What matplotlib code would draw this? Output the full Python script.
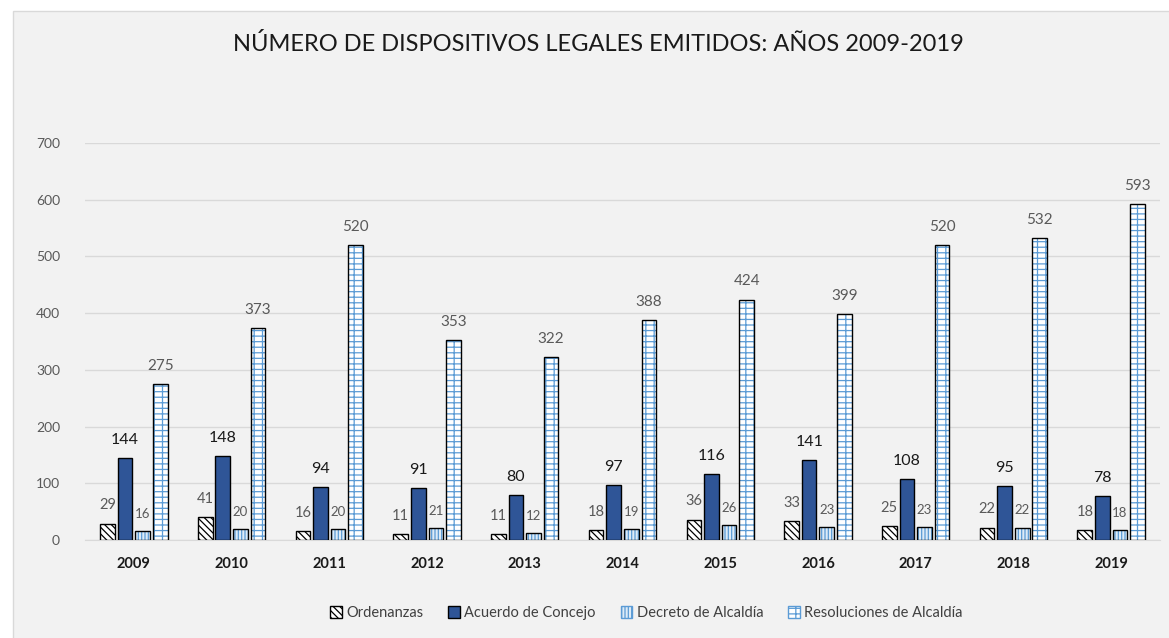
import numpy as np
import matplotlib
matplotlib.use("Agg")
import matplotlib.pyplot as plt
from matplotlib.patches import Rectangle, Patch

plt.rcParams['font.family'] = ['Lato', 'DejaVu Sans']
plt.rcParams['hatch.linewidth'] = 0.9

years = ['2009', '2010', '2011', '2012', '2013', '2014', '2015', '2016', '2017', '2018', '2019']
ordenanzas = [29, 41, 16, 11, 11, 18, 36, 33, 25, 22, 18]
acuerdo = [144, 148, 94, 91, 80, 97, 116, 141, 108, 95, 78]
decreto = [16, 20, 20, 21, 12, 19, 26, 23, 23, 22, 18]
resoluciones = [275, 373, 520, 353, 322, 388, 424, 399, 520, 532, 593]

bg = '#F2F2F2'
h_ord = '\\' * 5
h_dec = '|' * 5
h_res = '---||'

fig = plt.figure(figsize=(11.69, 6.38), dpi=100)
fig.patch.set_facecolor('white')
# chart area frame, behind the axes
fig.patches.append(Rectangle((13 / 1169, -0.01), 1.0, 1 - 11 / 638 + 0.01,
                             transform=fig.transFigure, facecolor=bg,
                             edgecolor='#D9D9D9', linewidth=1, zorder=-10))

ax = fig.add_axes([85 / 1169, 1 - 540 / 638, 1075 / 1169, 397 / 638])
ax.set_facecolor(bg)

x = np.arange(len(years))
step = 0.18
w = 0.15

def draw(vals, off, face, hatch, hcol):
    pos = x + off
    # hatch layer, then black outline
    ax.bar(pos, vals, w, color=face, edgecolor=hcol, hatch=hatch, linewidth=0, zorder=2)
    return ax.bar(pos, vals, w, facecolor='none', edgecolor='black', linewidth=1.0, zorder=3)

b1 = draw(ordenanzas, -1.5 * step, 'white', h_ord, 'black')
b2 = ax.bar(x - 0.5 * step, acuerdo, w, color='#2F5597', edgecolor='black', linewidth=1.0, zorder=3)
b3 = draw(decreto, 0.5 * step, '#DDEBF7', h_dec, '#5B9BD5')
b4 = draw(resoluciones, 1.5 * step, 'white', h_res, '#5B9BD5')

ax.bar_label(b1, padding=8, color='#595959', fontsize=10.5)
ax.bar_label(b2, padding=8, color='#1a1a1a', fontsize=11.5)
ax.bar_label(b3, padding=8, color='#595959', fontsize=9.5)
ax.bar_label(b4, padding=8, color='#595959', fontsize=11)

ax.set_xlim(-0.5, 10.5)
ax.set_ylim(0, 700)
ax.set_yticks(range(0, 701, 100))
ax.yaxis.grid(True, color='#D9D9D9', linewidth=1)
ax.set_axisbelow(True)
for s in ['top', 'right', 'left']:
    ax.spines[s].set_visible(False)
ax.spines['bottom'].set_color('#D9D9D9')
ax.tick_params(axis='both', length=0)
ax.tick_params(axis='y', labelcolor='#595959', labelsize=10, pad=18)
ax.set_xticks(x)
ax.set_xticklabels(years, fontweight='bold', fontsize=10.5, color='#1a1a1a')
ax.tick_params(axis='x', pad=12)

fig.text(0.512, 1 - 44 / 638, 'NÚMERO DE DISPOSITIVOS LEGALES EMITIDOS: AÑOS 2009-2019',
         ha='center', va='center', fontsize=17, color='#1a1a1a')

handles = [
    Patch(facecolor='white', edgecolor='black', hatch=h_ord, label='Ordenanzas'),
    Patch(facecolor='#2F5597', edgecolor='black', label='Acuerdo de Concejo'),
    Patch(facecolor='#DDEBF7', edgecolor='#5B9BD5', hatch=h_dec, label='Decreto de Alcaldía'),
    Patch(facecolor='white', edgecolor='#5B9BD5', hatch=h_res, label='Resoluciones de Alcaldía'),
]
fig.legend(handles=handles, loc='center', bbox_to_anchor=(0.553, 1 - 613 / 638), ncol=4,
           frameon=False, fontsize=10.5, handlelength=0.8, handleheight=0.8,
           handletextpad=0.3, columnspacing=1.7, labelcolor='#404040')

fig.savefig('out.png', dpi=100, facecolor=fig.get_facecolor())
